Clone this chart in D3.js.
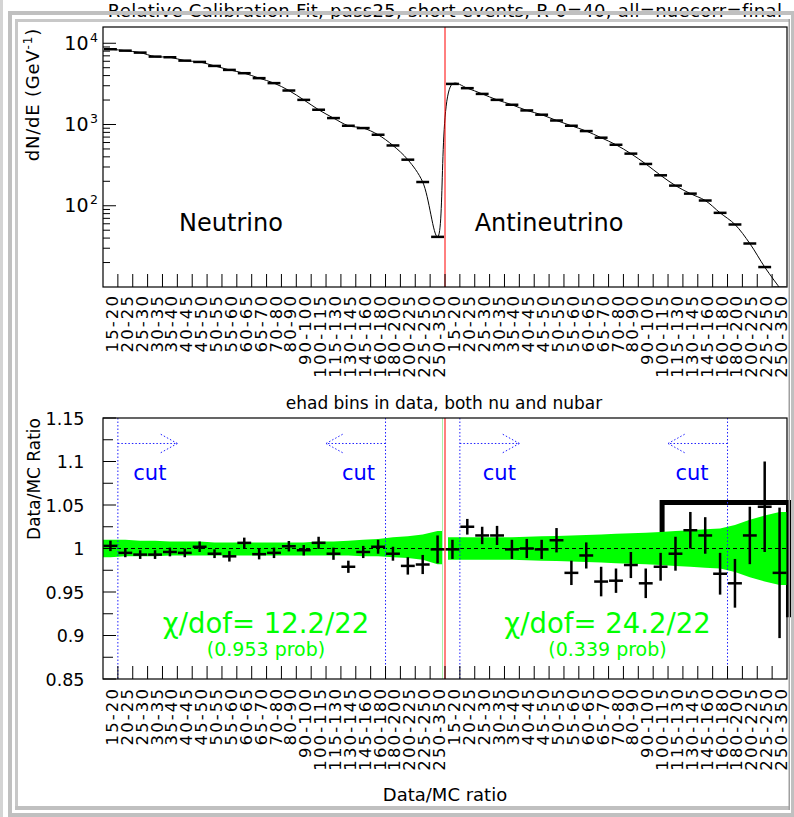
<!DOCTYPE html>
<html><head><meta charset="utf-8">
<script src="https://cdn.jsdelivr.net/npm/d3@7"></script>
<style>body{margin:0;background:#fff} svg{display:block} text{font-family:"DejaVu Sans",sans-serif}</style>
</head><body><svg id="c" width="794" height="817"></svg>
<script>
// ---------------- data ----------------
const titleText = "Relative Calibration Fit, pass25, short events, R 0=40, all=nuecorr=final";
const binLabels = ["15-20","20-25","25-30","30-35","35-40","40-45","45-50","50-55","55-60","60-65","65-70","70-80","80-90","90-100","100-115","115-130","130-145","145-160","160-180","180-200","200-225","225-250","250-350"];
const categories = binLabels.concat(binLabels);
const nuSpectrum = [8440,8110,7670,6850,6730,6110,5890,5260,4700,4280,3720,3230,2620,2010,1520,1200,965,904,748,552,369,196,41.4];
const nubarSpectrum = [3160,2800,2380,2010,1750,1490,1320,1120,965,830,688,563,438,327,237,177,141,116,81.8,58.8,34.3,17.6,9.8];
const nuRatio = [1.003,0.995,0.993,0.993,0.996,0.995,1.002,0.994,0.991,1.0065,0.9935,0.995,1.0026,0.998,1.0065,0.994,0.979,0.996,1.002,0.994,0.980,0.9816,0.999];
const nuRatioErr = [0.006,0.005,0.005,0.005,0.005,0.005,0.006,0.005,0.006,0.006,0.006,0.006,0.006,0.006,0.007,0.007,0.007,0.007,0.008,0.008,0.010,0.011,0.016];
const nubarRatio = [0.999,1.025,1.015,1.015,0.999,1.000,0.999,1.0095,0.972,0.992,0.962,0.963,0.981,0.960,0.979,0.994,1.021,1.015,0.971,0.960,1.015,1.048,0.972];
const nubarRatioErr = [0.011,0.009,0.010,0.011,0.011,0.011,0.011,0.014,0.014,0.015,0.017,0.014,0.015,0.017,0.016,0.0195,0.021,0.021,0.024,0.028,0.033,0.052,0.075];
const nuBandUp = [0.010,0.010,0.009,0.009,0.008,0.008,0.008,0.007,0.007,0.007,0.007,0.007,0.007,0.007,0.008,0.008,0.009,0.010,0.011,0.013,0.014,0.016,0.020];
const nuBandDown = [0.010,0.009,0.009,0.009,0.008,0.008,0.008,0.008,0.008,0.008,0.008,0.008,0.008,0.008,0.008,0.008,0.008,0.009,0.009,0.010,0.011,0.013,0.018];
const nubarBand = [0.013,0.013,0.013,0.013,0.013,0.0135,0.014,0.0145,0.015,0.0155,0.016,0.017,0.0175,0.018,0.019,0.020,0.021,0.022,0.023,0.027,0.033,0.038,0.042];
const logTicks = [100,1000,10000];
const ratioTicks = [0.85,0.9,0.95,1,1.05,1.1,1.15];
const ratioTickLabels = ["0.85","0.9","0.95","1","1.05","1.1","1.15"];
const cutEdges = [1,19,24,42];          // bin edges where cuts are placed
const cutDirections = [1,-1,1,-1];
const boxLineX = [37.6,37.6,46.1,46.1]; // in bin units
const boxLineY = [1.0,1.053,1.053,0.921];
const chi2Texts = ["χ/dof= 12.2/22","χ/dof= 24.2/22"];
const probTexts = ["(0.953 prob)","(0.339 prob)"];

// ---------------- layout ----------------
const L=103, R=787, T1=27, B1=287, T2=418, B2=679;
const spectrum = nuSpectrum.concat(nubarSpectrum);
const ratio = nuRatio.concat(nubarRatio);
const ratioErr = nuRatioErr.concat(nubarRatioErr);
const N = categories.length;
const x = d3.scaleLinear().domain([0,N]).range([L,R]);
const yTop = d3.scaleLog().domain([10,15850]).range([B1,T1]);
const yBot = d3.scaleLinear().domain([0.85,1.15]).range([B2,T2]);
const cx = i => x(i+0.5);

const svg = d3.select("#c");
svg.append("rect").attr("width",794).attr("height",817).attr("fill","#fff");
const defs = svg.append("defs");
defs.append("clipPath").attr("id","clipTop").append("rect").attr("x",L).attr("y",T1).attr("width",R-L).attr("height",B1-T1);

// title (partly hidden by pad borders)
svg.append("text").attr("x",445).attr("y",17).attr("text-anchor","middle").attr("font-size",18).attr("letter-spacing","0.3px").text(titleText);

// ---------------- upper pad ----------------
const up = svg.append("g");
const upc = up.append("g").attr("clip-path","url(#clipTop)");
upc.append("path").datum(spectrum)
  .attr("d", d3.line().x((d,i)=>cx(i)).y(d=>yTop(d)).curve(d3.curveCatmullRom))
  .attr("fill","none").attr("stroke","#000").attr("stroke-width",1);
upc.selectAll("line.bar").data(spectrum).join("line")
  .attr("x1",(d,i)=>x(i)+1).attr("x2",(d,i)=>x(i+1)-1)
  .attr("y1",d=>yTop(d)).attr("y2",d=>yTop(d))
  .attr("stroke","#000").attr("stroke-width",2.5);
up.append("line").attr("x1",x(23)).attr("x2",x(23)).attr("y1",T1).attr("y2",B1).attr("stroke","#ff0000").attr("stroke-width",1);
up.append("rect").attr("x",L).attr("y",T1).attr("width",R-L).attr("height",B1-T1).attr("fill","none").attr("stroke","#000").attr("stroke-width",1.2);
const minor = [];
[10,100,1000].forEach(d=>{for(let m=2;m<=9;m++){const v=d*m; if(v<15850) minor.push(v);}});
up.selectAll("line.ymin").data(minor).join("line")
  .attr("x1",L).attr("x2",L+7).attr("y1",d=>yTop(d)).attr("y2",d=>yTop(d)).attr("stroke","#000");
up.selectAll("line.ymaj").data(logTicks).join("line")
  .attr("x1",L).attr("x2",L+13).attr("y1",d=>yTop(d)).attr("y2",d=>yTop(d)).attr("stroke","#000");
logTicks.forEach(v=>{
  const yy=yTop(v);
  up.append("text").attr("x",88.5).attr("y",yy+6.5).attr("text-anchor","end").attr("font-size",19).text("10");
  up.append("text").attr("x",90).attr("y",yy-1.5).attr("font-size",12.5).text(String(Math.round(Math.log10(v))));
});
const edges = d3.range(1,N);
up.selectAll("line.xt").data(edges).join("line")
  .attr("x1",d=>x(d)).attr("x2",d=>x(d)).attr("y1",B1).attr("y2",B1-13).attr("stroke","#000");
const xLabels = (g, ytop) => {
  g.selectAll("text.xl").data(categories).join("text")
   .attr("transform",(d,i)=>`translate(${cx(i)+7.5},${ytop}) rotate(-90)`)
   .attr("text-anchor","end").attr("font-size",16.5).attr("letter-spacing","2.1px").text(d=>d);
};
xLabels(up.append("g"), 294);
const yt = up.append("text").attr("transform","translate(39,28) rotate(-90)").attr("text-anchor","end").attr("font-size",18).attr("letter-spacing","0.8px");
yt.append("tspan").text("dN/dE (GeV");
yt.append("tspan").attr("font-size",12).attr("dy",-7).text("-1");
yt.append("tspan").attr("dy",7).text(")");
up.append("text").attr("x",231).attr("y",231).attr("text-anchor","middle").attr("font-size",24).text("Neutrino");
up.append("text").attr("x",549).attr("y",231).attr("text-anchor","middle").attr("font-size",24).text("Antineutrino");

// ---------------- lower pad ----------------
const lo = svg.append("g");
lo.append("text").attr("x",444).attr("y",409).attr("text-anchor","middle").attr("font-size",17).text("ehad bins in data, both nu and nubar");
lo.append("path").datum(boxLineX.map((v,i)=>[v,boxLineY[i]]))
  .attr("d", d3.line().x(d=>x(d[0])).y(d=>yBot(d[1])))
  .attr("fill","none").attr("stroke","#000").attr("stroke-width",5);
const bandPts = (startEdge, endEdge, idx0, upv, dnv) => {
  const pts = [{x:startEdge, u:upv[0], d:dnv[0]}];
  upv.forEach((u,k)=>pts.push({x:cx(idx0+k), u:u, d:dnv[k]}));
  pts.push({x:endEdge, u:upv[upv.length-1], d:dnv[dnv.length-1]});
  return pts;
};
const area = d3.area().x(d=>d.x).y0(d=>yBot(1-d.d)).y1(d=>yBot(1+d.u));
lo.append("path").datum(bandPts(x(0), x(23)-3, 0, nuBandUp, nuBandDown)).attr("d",area).attr("fill","#00ff00");
lo.append("path").datum(bandPts(x(23)+3, x(46), 23, nubarBand, nubarBand)).attr("d",area).attr("fill","#00ff00");
lo.append("line").attr("x1",x(23)-2.5).attr("x2",x(23)-2.5).attr("y1",T2).attr("y2",B2).attr("stroke","#a8f0a8").attr("stroke-width",1);
lo.append("line").attr("x1",L).attr("x2",R).attr("y1",yBot(1)).attr("y2",yBot(1)).attr("stroke","#000").attr("stroke-dasharray","4,3").attr("stroke-width",1);
cutEdges.forEach((e,k)=>{
  const xe = x(e), dir = cutDirections[k], ya = yBot(1.1207);
  const xt = xe + dir*59.5;
  const ln = (x1,y1,x2,y2)=>lo.append("line").attr("x1",x1).attr("y1",y1).attr("x2",x2).attr("y2",y2)
      .attr("stroke","#2020ff").attr("stroke-width",1).attr("stroke-dasharray","1.5,2");
  ln(xe,T2,xe,B2);
  ln(xe,ya,xt,ya);
  ln(xt,ya,xt-dir*18,ya-10);
  ln(xt,ya,xt-dir*18,ya+10);
});
const cutOffsets = [32,-27,39.5,-35.5];
cutEdges.forEach((e,k)=>{
  lo.append("text").attr("x",x(e)+cutOffsets[k]).attr("y",yBot(1.0785)).attr("text-anchor","middle").attr("font-size",21).attr("fill","#0000ff").text("cut");
});
const cr = lo.append("g").attr("stroke","#000").attr("stroke-width",2.5);
cr.selectAll("line.h").data(ratio).join("line")
  .attr("x1",(d,i)=>x(i)+0.5).attr("x2",(d,i)=>x(i+1)-0.5).attr("y1",d=>yBot(d)).attr("y2",d=>yBot(d));
cr.selectAll("line.v").data(ratio).join("line").attr("class","v")
  .attr("x1",(d,i)=>cx(i)).attr("x2",(d,i)=>cx(i)).attr("y1",(d,i)=>yBot(d+ratioErr[i])).attr("y2",(d,i)=>yBot(d-ratioErr[i]));
lo.append("line").attr("x1",x(23)).attr("x2",x(23)).attr("y1",T2).attr("y2",B2).attr("stroke","#ff0000").attr("stroke-width",1);
lo.append("rect").attr("x",L).attr("y",T2).attr("width",R-L).attr("height",B2-T2).attr("fill","none").attr("stroke","#000").attr("stroke-width",1.2);
const rMinor = ratioTicks.slice(0,-1).map(v=>v+0.025);
lo.selectAll("line.rmin").data(rMinor).join("line")
  .attr("x1",L).attr("x2",L+10).attr("y1",d=>yBot(d)).attr("y2",d=>yBot(d)).attr("stroke","#000");
lo.selectAll("line.rmaj").data(ratioTicks).join("line")
  .attr("x1",L).attr("x2",L+13).attr("y1",d=>yBot(d)).attr("y2",d=>yBot(d)).attr("stroke","#000");
lo.selectAll("text.rl").data(ratioTicks).join("text")
  .attr("x",84.5).attr("y",d=>yBot(d)+6.5).attr("text-anchor","end").attr("font-size",17.5).text((d,i)=>ratioTickLabels[i]);
lo.selectAll("line.xt").data(edges).join("line")
  .attr("x1",d=>x(d)).attr("x2",d=>x(d)).attr("y1",B2).attr("y2",B2-13).attr("stroke","#000");
xLabels(lo.append("g"), 687);
lo.append("text").attr("transform","translate(40,418) rotate(-90)").attr("text-anchor","end").attr("font-size",17).text("Data/MC Ratio");
lo.append("text").attr("x",445).attr("y",801).attr("text-anchor","middle").attr("font-size",18).text("Data/MC ratio");
[266,607.5].forEach((cxp,k)=>{
  lo.append("text").attr("x",cxp).attr("y",633).attr("text-anchor","middle").attr("font-size",27.5).attr("fill","#00ff00").text(chi2Texts[k]);
  lo.append("text").attr("x",cxp).attr("y",656).attr("text-anchor","middle").attr("font-size",19).attr("fill","#00ff00").text(probTexts[k]);
});

// ---------------- pad borders ----------------
const gb = svg.append("g");
const rr = (x0,y0,w,h,c)=>gb.append("rect").attr("x",x0).attr("y",y0).attr("width",w).attr("height",h).attr("fill",c);
rr(0,0,3,817,"#d4d4d4");
rr(8,11,786,4,"#c0c0c0");
rr(8,11,4,806,"#c0c0c0");
rr(15,19,775,3,"#c8c8c8");
rr(15,19,3,789,"#c8c8c8");
rr(15,806,775,4,"#c0c0c0");
rr(8,813,786,4,"#c0c0c0");
rr(788.5,19,1.5,791,"#a0a0a0");
rr(791,11,3,806,"#c0c0c0");
</script></body></html>
